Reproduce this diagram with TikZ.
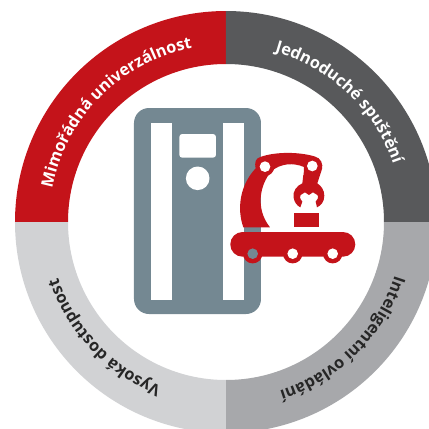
\documentclass[tikz,border=0pt]{standalone}
\usepackage{fontspec}
\setmainfont{Open Sans}
\usetikzlibrary{decorations.text}
\definecolor{ringred}{HTML}{C4131A}
\definecolor{ringdark}{HTML}{58595B}
\definecolor{ringmid}{HTML}{A7A8AB}
\definecolor{ringlight}{HTML}{D1D2D4}
\definecolor{ringink}{HTML}{262626}
\definecolor{cabinet}{HTML}{748892}
\tikzset{
  ringtext/.style 2 args={decorate,decoration={text along path,text align=center,text={|\fontsize{16.3}{16}\selectfont\bfseries\color{#1}|#2}}},
}
\newcommand{\sectorfill}[3]{\fill[#1] (#2:158pt) arc (#2:#3:158pt) -- (#3:211pt) arc (#3:#2:211pt) -- cycle;}
\begin{document}
\begin{tikzpicture}[x=1pt,y=1pt]
\useasboundingbox (-226,-207) rectangle (203,222);
\clip (-226,-207) rectangle (203,222);
% ring
\sectorfill{ringred}{90}{180}
\sectorfill{ringdark}{0}{90}
\sectorfill{ringmid}{-90}{0}
\sectorfill{ringlight}{180}{270}
% labels
\path[ringtext={white}{Mimořádná univerzálnost}] (175:177pt) arc (175:95:177pt);
\path[ringtext={white}{Jednoduché spuštění}] (86.5:177pt) arc (86.5:6.5:177pt);
\path[ringtext={ringink}{Inteligentní ovládání}] (-5:177pt) arc (-5:-85:177pt);
\path[ringtext={ringink}{Vysoká dostupnost}] (-96.5:177pt) arc (-96.5:-176.5:177pt);
% cabinet
\fill[cabinet,rounded corners=15pt] (-92,114) rectangle (35,-92);
\fill[white] (-75.3,99.3) rectangle (-54,-78);
\fill[white] (-2.7,99.3) rectangle (18.3,-78);
\fill[white,rounded corners=3pt] (-46.7,88) rectangle (-10,64.3);
\fill[white] (-28.3,43.7) circle (11.8);
% conveyor
\fill[ringred,rounded corners=12.3pt] (4.3,-10) rectangle (129.3,-34.7);
\foreach \wx/\wc in {26.7/cabinet,66.7/white,106.7/white}{
  \fill[ringred] (\wx,-31.7) circle (9.7);
  \fill[\wc] (\wx,-31.7) circle (5.3);
}
% robot arm
\begin{scope}[x=0.3333pt,y=-0.3333pt,shift={(9pt,77pt)}]
\fill[ringred] (25,247) .. controls (5,190) and (15,120) .. (62,70)
  .. controls (58,52) and (62,40) .. (76,36)
  .. controls (120,20) and (190,20) .. (238,34)
  .. controls (258,38) and (265,58) .. (261,72)
  -- (248,112) -- (205,112) -- (207,66)
  .. controls (175,52) and (135,55) .. (108,80)
  .. controls (75,120) and (60,190) .. (105,247) -- cycle;
\fill[ringred] (90,65) circle (28);
\fill[ringred] (205,90) -- (202,115) .. controls (185,122) and (172,140) .. (176,158)
  .. controls (178,172) and (186,182) .. (196,187)
  -- (202,170) .. controls (195,160) and (192,155) .. (197,150)
  -- (210,142) -- (222,150) -- (234,142) -- (247,150)
  .. controls (252,155) and (248,165) .. (242,170)
  -- (246,187) .. controls (258,182) and (268,170) .. (268,152)
  .. controls (268,135) and (258,122) .. (247,115) -- (252,90) -- cycle;
\fill[white] (90,65) circle (16);
\fill[white] (232,63) circle (16);
\fill[ringred] (177,203) rectangle (252,247);
\end{scope}
\end{tikzpicture}
\end{document}
